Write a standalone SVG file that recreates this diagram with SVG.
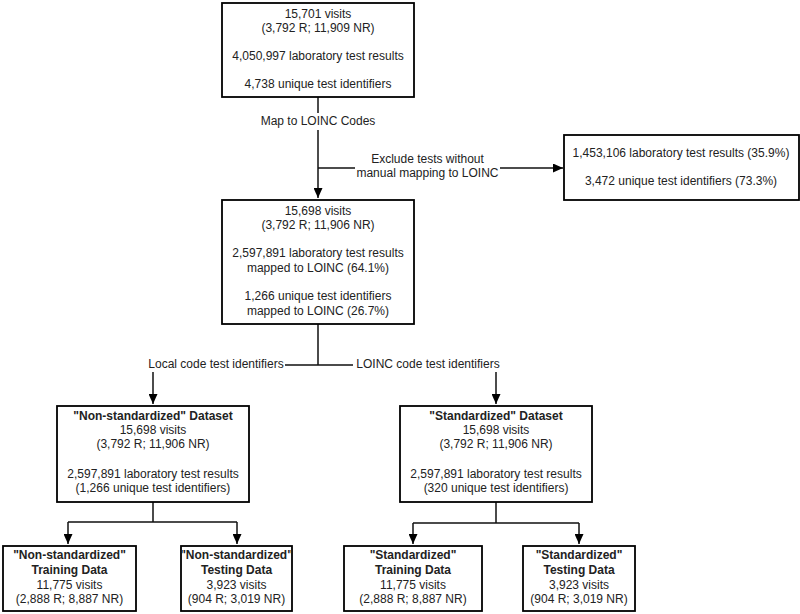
<svg xmlns="http://www.w3.org/2000/svg" width="800" height="614" viewBox="0 0 800 614">
<style>
.box{fill:#fff;stroke:#000;stroke-width:1.8}
.t{font-family:"Liberation Sans",Arial,sans-serif;font-size:12px;fill:#222;text-anchor:middle}
.b{font-weight:bold}
.c{fill:none;stroke:#111;stroke-width:1.5}
</style>
<defs>
<marker id="ah" markerWidth="10" markerHeight="9" refX="10" refY="4.5" orient="auto" markerUnits="userSpaceOnUse">
<path d="M0,0 L10,4.5 L0,9 z" fill="#000"/>
</marker>
</defs>
<rect width="800" height="614" fill="#fff"/>
<g id="connectors">
<path class="c" d="M318,97 V113"/>
<path class="c" d="M318,130 V198" marker-end="url(#ah)"/>
<path class="c" d="M318,168 H355"/>
<path class="c" d="M500,168 H563" marker-end="url(#ah)"/>
<path class="c" d="M318,324 V365 M285,365 H353"/>
<path class="c" d="M153,372 V404" marker-end="url(#ah)"/>
<path class="c" d="M496,372 V404" marker-end="url(#ah)"/>
<path class="c" d="M153,502 V522 M68,522 H237"/>
<path class="c" d="M68,522 V544" marker-end="url(#ah)"/>
<path class="c" d="M237,522 V544" marker-end="url(#ah)"/>
<path class="c" d="M496,502 V523 M413,523 H579"/>
<path class="c" d="M413,523 V544" marker-end="url(#ah)"/>
<path class="c" d="M579,523 V544" marker-end="url(#ah)"/>
<text class="t" x="318" y="125">Map to LOINC Codes</text>
<text class="t" x="427.5" y="163">Exclude tests without</text>
<text class="t" x="427.5" y="177">manual mapping to LOINC</text>
<text class="t" x="216" y="368">Local code test identifiers</text>
<text class="t" x="428" y="368">LOINC code test identifiers</text>
</g>
<g id="start">
<rect class="box" x="222" y="3" width="192" height="94"/>
<text class="t" x="318" y="17.5">15,701 visits</text>
<text class="t" x="318" y="31.5">(3,792 R; 11,909 NR)</text>
<text class="t" x="318" y="59.5">4,050,997 laboratory test results</text>
<text class="t" x="318" y="88">4,738 unique test identifiers</text>
</g>
<g id="excluded">
<rect class="box" x="564" y="135" width="235" height="65"/>
<text class="t" x="681" y="157">1,453,106 laboratory test results (35.9%)</text>
<text class="t" x="681" y="185">3,472 unique test identifiers (73.3%)</text>
</g>
<g id="mapped">
<rect class="box" x="222" y="200" width="192" height="124"/>
<text class="t" x="318" y="214.5">15,698 visits</text>
<text class="t" x="318" y="228.5">(3,792 R; 11,906 NR)</text>
<text class="t" x="318" y="257">2,597,891 laboratory test results</text>
<text class="t" x="318" y="271.5">mapped to LOINC (64.1%)</text>
<text class="t" x="318" y="300">1,266 unique test identifiers</text>
<text class="t" x="318" y="315">mapped to LOINC (26.7%)</text>
</g>
<g id="nonstd">
<rect class="box" x="57" y="406" width="192" height="96"/>
<text class="t b" x="153" y="420">"Non-standardized" Dataset</text>
<text class="t" x="153" y="434">15,698 visits</text>
<text class="t" x="153" y="448">(3,792 R; 11,906 NR)</text>
<text class="t" x="153" y="478">2,597,891 laboratory test results</text>
<text class="t" x="153" y="492">(1,266 unique test identifiers)</text>
</g>
<g id="std">
<rect class="box" x="400" y="406" width="192" height="96"/>
<text class="t b" x="496" y="420">"Standardized" Dataset</text>
<text class="t" x="496" y="434">15,698 visits</text>
<text class="t" x="496" y="448">(3,792 R; 11,906 NR)</text>
<text class="t" x="496" y="478">2,597,891 laboratory test results</text>
<text class="t" x="496" y="492">(320 unique test identifiers)</text>
</g>
<g id="nonstd-train">
<rect class="box" x="3" y="546" width="133" height="65"/>
<text class="t b" x="69.5" y="559">"Non-standardized"</text>
<text class="t b" x="69.5" y="574">Training Data</text>
<text class="t" x="69.5" y="588.5">11,775 visits</text>
<text class="t" x="69.5" y="603">(2,888 R; 8,887 NR)</text>
</g>
<g id="nonstd-test">
<rect class="box" x="181" y="546" width="111" height="65"/>
<text class="t b" x="236.5" y="559">"Non-standardized"</text>
<text class="t b" x="236.5" y="574">Testing Data</text>
<text class="t" x="236.5" y="588.5">3,923 visits</text>
<text class="t" x="236.5" y="603">(904 R; 3,019 NR)</text>
</g>
<g id="std-train">
<rect class="box" x="344" y="546" width="138" height="65"/>
<text class="t b" x="413" y="559">"Standardized"</text>
<text class="t b" x="413" y="574">Training Data</text>
<text class="t" x="413" y="588.5">11,775 visits</text>
<text class="t" x="413" y="603">(2,888 R; 8,887 NR)</text>
</g>
<g id="std-test">
<rect class="box" x="523" y="546" width="112" height="65"/>
<text class="t b" x="579" y="559">"Standardized"</text>
<text class="t b" x="579" y="574">Testing Data</text>
<text class="t" x="579" y="588.5">3,923 visits</text>
<text class="t" x="579" y="603">(904 R; 3,019 NR)</text>
</g>
</svg>
